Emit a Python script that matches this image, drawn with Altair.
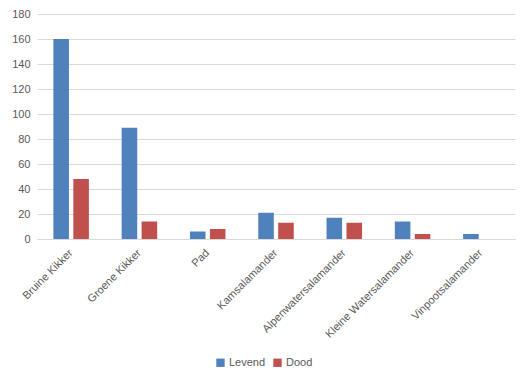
import altair as alt
import pandas as pd

categories = ["Bruine Kikker", "Groene Kikker", "Pad", "Kamsalamander",
              "Alpenwatersalamander", "Kleine Watersalamander", "Vinpootsalamander"]
levend = [160, 89, 6, 21, 17, 14, 4]
dood = [48, 14, 8, 13, 13, 4, 0]
series = ["Levend", "Dood"]
colors = ["#4F81BD", "#C0504D"]

rows = []
for c, l, d in zip(categories, levend, dood):
    rows.append({"soort": c, "status": "Levend", "aantal": l})
    rows.append({"soort": c, "status": "Dood", "aantal": d})
df = pd.DataFrame(rows)

font = "Liberation Sans"
chart = alt.Chart(df).mark_bar().encode(
    x=alt.X("soort:N", sort=categories, title=None,
            scale=alt.Scale(paddingInner=0.48, paddingOuter=0.24),
            axis=alt.Axis(labelAngle=-45, labelAlign="right", labelBaseline="middle",
                          labelPadding=12, ticks=False, domain=True, domainColor="#D9D9D9",
                          labelColor="#595959", labelFont=font, labelFontSize=11,
                          labelOverlap=False)),
    xOffset=alt.XOffset("status:N", sort=series, scale=alt.Scale(paddingInner=0.22)),
    y=alt.Y("aantal:Q", title=None,
            scale=alt.Scale(domain=[0, 180], nice=False),
            axis=alt.Axis(values=list(range(0, 181, 20)), grid=True, gridColor="#D9D9D9",
                          domain=False, ticks=False, labelColor="#595959", labelFont=font,
                          labelFontSize=11, labelPadding=7)),
    color=alt.Color("status:N", sort=series,
                    scale=alt.Scale(domain=series, range=colors),
                    legend=alt.Legend(title=None, orient="none", direction="horizontal",
                                      legendX=178, legendY=343, symbolType="square",
                                      symbolSize=70, symbolStrokeWidth=0,
                                      labelColor="#595959", labelFont=font, labelFontSize=11,
                                      columnPadding=6, labelOffset=3)),
).properties(
    width=478, height=225,
    padding={"left": 29, "top": 6, "right": 2, "bottom": 133},
    autosize=alt.AutoSizeParams(type="none"),
).configure_view(stroke=None)

chart.save("out.html", embed_options={"renderer": "svg", "actions": False})
